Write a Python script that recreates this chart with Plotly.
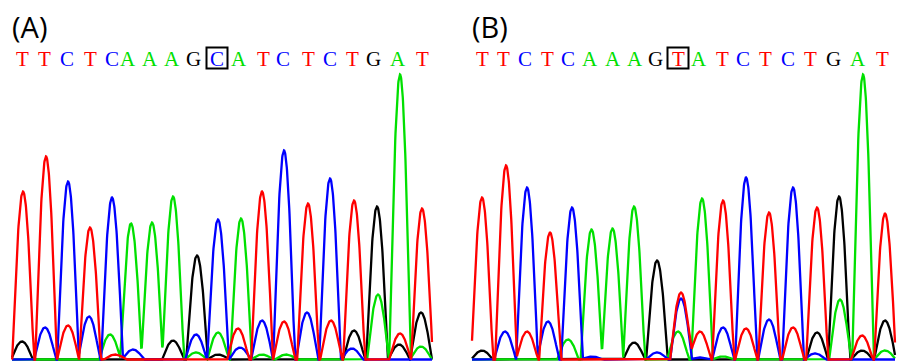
import numpy as np
import plotly.graph_objects as go

# ---------------- data ----------------
seq_A = "TTCTCAAAGCATCTCTGAT"
seq_B = "TTCTCAAAGTATCTCTGAT"
# base-call positions (scan units)
calls_A = [22, 44, 67, 90, 112, 128, 150, 172, 193, 217, 239, 263, 283, 308, 330, 352, 373, 398, 422]
calls_B = [482, 503, 525, 547, 568, 590, 613, 635, 655, 678, 699, 722, 743, 765, 788, 810, 833, 858, 882]
boxed_index = 9
panel_labels = ["(A)", "(B)"]
scan_A = (12, 432)
scan_B = (472, 895)

# peaks per channel: (scan position, signal height)
A_T = [(23, 168), (46, 203), (90, 132), (262, 168), (308, 156), (354, 159), (422, 151),
       (68, 34), (115, 5), (238, 31), (284, 38), (331, 39), (400, 26)]
A_C = [(68, 178), (112, 162), (218, 140), (284, 209), (330, 181),
       (45, 32), (89, 43), (133, 10), (196, 25), (240, 12), (262, 39), (307, 47), (352, 11)]
A_A = [(131, 136), (152, 137), (173, 163), (241, 141), (400, 285),
       (110, 25), (196, 7), (218, 27), (262, 5), (286, 5), (378, 65), (421, 13)]
A_G = [(197, 104), (377, 153),
       (22, 18), (173, 19), (218, 5), (354, 29), (399, 15), (421, 47)]

B_T = [(482, 162), (506, 194), (550, 127), (681, 67), (723, 159), (769, 147), (817, 152), (885, 146),
       (527, 28), (700, 28), (746, 31), (793, 32), (862, 24)]
B_C = [(527, 172), (572, 152), (681, 61), (746, 182), (793, 172),
       (505, 28), (548, 38), (592, 3), (657, 7), (700, 2), (723, 32), (769, 40), (815, 6)]
B_A = [(591.5, 130), (612.5, 131), (634, 153), (702, 161), (863, 285),
       (568, 20), (678, 28), (723, 3), (840, 60), (885, 9)]
B_G = [(657, 99), (839, 163),
       (482, 9), (634, 17), (817, 27), (862, 9), (885, 39)]

colors = {"T": "#ff0000", "C": "#0000ff", "A": "#00e000", "G": "#000000"}

# ---------------- figure ----------------
W, H = 901, 361
HALF_WIDTH = 10.8
fig = go.Figure()


def trace(peaks, span):
    xs = np.arange(span[0], span[1] + 0.01, 0.25)
    ys = np.zeros_like(xs)
    for p, h in peaks:
        d = np.abs(xs - p)
        shape = np.where(d < HALF_WIDTH, np.cos(np.pi * d / (2 * HALF_WIDTH)), 0.0)
        ys += h * shape
    return xs, ys


for span, chans in [(scan_A, [("G", A_G), ("A", A_A), ("C", A_C), ("T", A_T)]),
                    (scan_B, [("G", B_G), ("A", B_A), ("C", B_C), ("T", B_T)])]:
    for base, peaks in chans:
        xs, ys = trace(peaks, span)
        fig.add_trace(go.Scatter(x=xs, y=ys, mode="lines",
                                 line=dict(color=colors[base], width=2.3),
                                 hoverinfo="skip", showlegend=False))

annotations = []
shapes = []
for seq, calls, label, span in [(seq_A, calls_A, panel_labels[0], scan_A),
                                (seq_B, calls_B, panel_labels[1], scan_B)]:
    for i, (b, x) in enumerate(zip(seq, calls)):
        annotations.append(dict(x=x, y=301, xref="x", yref="y", text=b, showarrow=False,
                                xanchor="center", yanchor="middle",
                                font=dict(family="Liberation Serif", size=21, color=colors[b])))
        if i == boxed_index:
            shapes.append(dict(type="rect", xref="x", yref="y", x0=x - 10.5, x1=x + 10.5,
                               y0=291, y1=312, line=dict(color="black", width=2)))
    annotations.append(dict(x=span[0] - 2, y=333, xref="x", yref="y", text=label, showarrow=False,
                            xanchor="left", yanchor="middle",
                            font=dict(family="Open Sans", size=29, color="black")))

fig.update_layout(
    width=W, height=H, margin=dict(l=0, r=0, t=0, b=0),
    paper_bgcolor="white", plot_bgcolor="white",
    xaxis=dict(range=[0, W], visible=False, fixedrange=True),
    yaxis=dict(range=[-1.5, H - 1.5], visible=False, fixedrange=True),
    annotations=annotations, shapes=shapes,
)
fig.write_html("out.html", config={"displayModeBar": False},
               post_script="document.body.style.margin='0px';document.body.style.overflow='hidden';")
